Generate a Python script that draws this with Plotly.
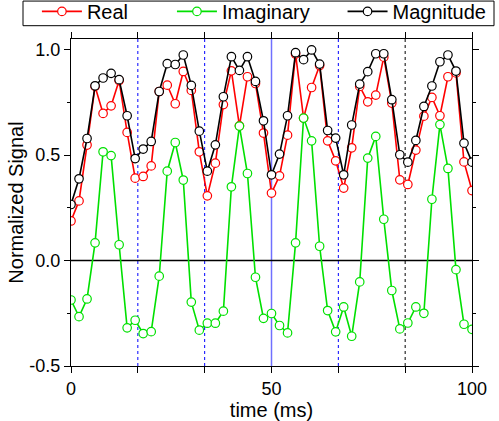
import plotly.graph_objects as go

time_ms = [0, 2, 4, 6, 8, 10, 12, 14, 16, 18, 20, 22, 24, 26, 28, 30, 32, 34, 36, 38,
           40, 42, 44, 46, 48, 50, 52, 54, 56, 58, 60, 62, 64, 66, 68, 70, 72, 74, 76, 78,
           80, 82, 84, 86, 88, 90, 92, 94, 96, 98, 100]

real = [0.188, 0.283, 0.548, 0.826, 0.698, 0.734, 0.854, 0.608, 0.391, 0.399, 0.449,
        0.802, 0.832, 0.744, 0.897, 0.807, 0.516, 0.307, 0.462, 0.740, 0.900, 0.639,
        0.872, 0.840, 0.605, 0.320, 0.402, 0.595, 0.980, 0.676, 0.821, 0.925, 0.568,
        0.473, 0.344, 0.535, 0.826, 0.753, 0.785, 0.965, 0.747, 0.383, 0.361, 0.524,
        0.685, 0.774, 0.687, 0.872, 0.890, 0.468, 0.332]

imag = [-0.187, -0.266, -0.182, 0.084, 0.516, 0.498, 0.075, -0.319, -0.283, -0.346, -0.337,
        -0.074, 0.424, 0.560, 0.382, -0.197, -0.330, -0.297, -0.297, -0.240, 0.350, 0.638,
        0.413, -0.079, -0.274, -0.251, -0.308, -0.343, 0.084, 0.676, 0.568, 0.068, -0.237,
        -0.338, -0.220, -0.359, -0.101, 0.486, 0.589, 0.196, -0.142, -0.324, -0.296, -0.220,
        -0.250, 0.291, 0.645, 0.437, -0.043, -0.302, -0.326]

magnitude = [0.266, 0.388, 0.579, 0.829, 0.866, 0.888, 0.858, 0.687, 0.484, 0.529, 0.565,
             0.802, 0.934, 0.930, 0.975, 0.831, 0.614, 0.424, 0.549, 0.777, 0.967, 0.902,
             0.967, 0.850, 0.663, 0.407, 0.505, 0.687, 0.986, 0.953, 0.999, 0.932, 0.617,
             0.581, 0.407, 0.643, 0.837, 0.896, 0.981, 0.981, 0.763, 0.502, 0.467, 0.570,
             0.731, 0.828, 0.943, 0.975, 0.899, 0.557, 0.467]

series_names = ["Real", "Imaginary", "Magnitude"]

x_tick_vals = [0, 100/6, 200/6, 50, 400/6, 500/6, 100]
x_tick_text = ["0", "", "", "50", "", "", "100"]
y_major = [-0.5, 0.0, 0.5, 1.0]
y_major_text = ["-0.5", "0.0", "0.5", "1.0"]
y_minor = [-0.25, 0.25, 0.75]

markers_t = [100/6, 200/6, 50, 400/6, 500/6]
markers_color = ["#0000ff", "#0000ff", "#7070ff", "#0000ff", "#000000"]
markers_dash = ["dot", "dot", "solid", "dot", "dot"]
markers_width = [1, 1, 1.5, 1, 1]

FONT = "Arial, Liberation Sans, sans-serif"
NB = "\u00a0"

fig = go.Figure()
pads = [7, 5, 0]
for name, ys, col, p in zip(series_names, [real, imag, magnitude],
                            ["#ff0000", "#00e000", "#000000"], pads):
    fig.add_trace(go.Scatter(
        x=time_ms, y=ys, name=name + NB * p, mode="lines+markers",
        line=dict(color=col, width=1.6),
        marker=dict(symbol="circle", size=8.5, color="white",
                    line=dict(color=col, width=1.2)),
    ))

shapes = []
for t, c, d, w in zip(markers_t, markers_color, markers_dash, markers_width):
    shapes.append(dict(type="line", xref="x", yref="paper", x0=t, x1=t, y0=0, y1=1,
                       line=dict(color=c, dash=d, width=w), layer="below"))
shapes.append(dict(type="line", xref="paper", yref="y", x0=0, x1=1, y0=0, y1=0,
                   line=dict(color="black", width=1.5), layer="below"))
# legend frame
shapes.append(dict(type="rect", xref="paper", yref="paper",
                   x0=-0.1197, x1=1.0549, y0=1.0407, y1=1.1160,
                   line=dict(color="black", width=1), fillcolor="rgba(0,0,0,0)"))

fig.update_layout(
    width=499, height=421,
    margin=dict(l=71, r=27, t=39, b=55, autoexpand=False),
    paper_bgcolor="white", plot_bgcolor="white",
    font=dict(family=FONT, size=18, color="black"),
    shapes=shapes,
    showlegend=True,
    legend=dict(orientation="h", x=-0.085, xanchor="left", y=1.144, yanchor="top",
                borderwidth=0, font=dict(size=20),
                itemwidth=40, bgcolor="rgba(0,0,0,0)", tracegroupgap=0),
    xaxis=dict(range=[0, 100], tickvals=x_tick_vals, ticktext=x_tick_text,
               ticks="outside", ticklen=6, tickwidth=1, tickcolor="black",
               showline=True, linecolor="black", linewidth=1.2, mirror="allticks",
               showgrid=False, zeroline=False, automargin=False,
               title=dict(text="time (ms)", font=dict(size=20), standoff=0)),
    yaxis=dict(range=[-0.5, 1.051], tickvals=y_major, ticktext=y_major_text,
               ticks="outside", ticklen=6, tickwidth=1, tickcolor="black",
               minor=dict(tickvals=y_minor, ticks="outside", ticklen=3,
                          tickcolor="black"),
               showline=True, linecolor="black", linewidth=1.2, mirror="allticks",
               showgrid=False, zeroline=False, automargin=False,
               title=dict(text="Normalized Signal", font=dict(size=20), standoff=0)),
)

fig.write_html("out.html", config={"displayModeBar": False},
               post_script="document.body.style.margin='0';")
